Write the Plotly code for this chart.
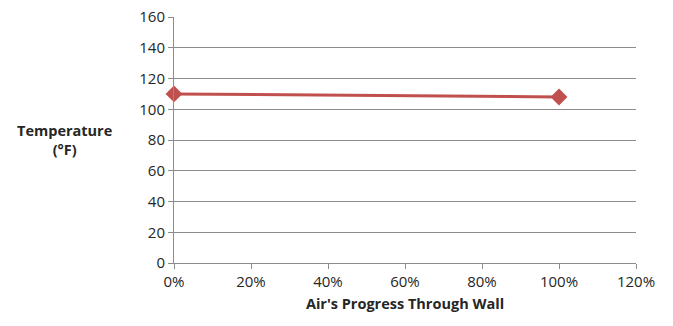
import plotly.graph_objects as go

progress = [0.0, 1.0]
temperature = [110, 108]
x_ticks = [0, 0.2, 0.4, 0.6, 0.8, 1.0, 1.2]
y_ticks = [0, 20, 40, 60, 80, 100, 120, 140, 160]

font_family = "Open Sans, Liberation Sans, sans-serif"

fig = go.Figure()
fig.add_trace(go.Scatter(
    x=progress, y=temperature, mode="lines+markers",
    line=dict(color="#C0504D", width=3),
    marker=dict(symbol="diamond", size=13, color="#C0504D"),
    cliponaxis=False, showlegend=False,
))

fig.update_layout(
    width=673, height=326,
    margin=dict(l=174, r=37, t=17, b=63),
    paper_bgcolor="white", plot_bgcolor="white",
    font=dict(family=font_family, size=15, color="#262626"),
    xaxis=dict(
        range=[0, 1.2], tickvals=x_ticks, tickformat=".0%",
        showgrid=False, zeroline=False,
        showline=True, linecolor="#8c8c8c", linewidth=1,
        ticks="outside", ticklen=5, tickcolor="#8c8c8c",
        title=dict(text="<b>Air's Progress Through Wall</b>", font=dict(size=14.5), standoff=8),
        automargin=False,
    ),
    yaxis=dict(
        range=[0, 160], tickvals=y_ticks,
        showgrid=True, gridcolor="#8c8c8c", gridwidth=1, zeroline=False,
        showline=True, linecolor="#8c8c8c", linewidth=1,
        ticks="outside", ticklen=5, tickcolor="#8c8c8c",
        automargin=False,
    ),
    annotations=[dict(
        text="<b>Temperature</b><br><b>(°F)</b>",
        xref="paper", yref="paper", x=-0.236, y=0.5,
        xanchor="center", yanchor="middle", showarrow=False,
        font=dict(size=14.5, family=font_family, color="#262626"),
    )],
)

fig.write_html("out.html", config={"displayModeBar": False},
               post_script="document.body.style.margin='0';")
